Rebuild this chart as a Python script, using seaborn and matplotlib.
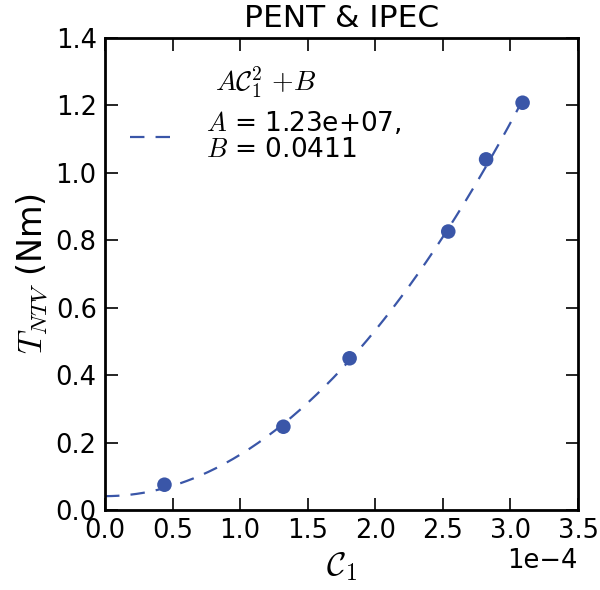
import numpy as np
import pandas as pd
import matplotlib
matplotlib.use("Agg")
import matplotlib.pyplot as plt
import seaborn as sns

# Measured torque versus C1 coefficient
c1_values = [0.44e-4, 1.32e-4, 1.81e-4, 2.54e-4, 2.82e-4, 3.09e-4]
torque_values = [0.075, 0.247, 0.450, 0.826, 1.040, 1.208]

# Quadratic fit coefficients: T = A*C1^2 + B
fit_A = 1.23e7
fit_B = 0.0411

x_ticks = [0.0, 0.5e-4, 1.0e-4, 1.5e-4, 2.0e-4, 2.5e-4, 3.0e-4, 3.5e-4]
y_ticks = [0.0, 0.2, 0.4, 0.6, 0.8, 1.0, 1.2, 1.4]

color = "#3A56A8"

sns.set_style("ticks")
plt.rcParams.update({
    "font.family": ["DejaVu Sans"],
    "mathtext.fontset": "cm",
    "text.color": "black",
    "axes.labelcolor": "black",
    "xtick.direction": "in",
    "ytick.direction": "in",
    "xtick.top": True,
    "ytick.right": True,
    "xtick.major.size": 9,
    "ytick.major.size": 9,
    "xtick.major.width": 1.2,
    "ytick.major.width": 1.2,
    "axes.linewidth": 2.0,
    "axes.edgecolor": "black",
    "xtick.color": "black",
    "ytick.color": "black",
})

data = pd.DataFrame({"C1": c1_values, "T": torque_values})
fit_x = np.linspace(0, max(c1_values), 200)
fit = pd.DataFrame({"C1": fit_x, "T": fit_A * fit_x**2 + fit_B})

fig = plt.figure(figsize=(6.0, 5.9), dpi=100)
ax = fig.add_axes([105 / 600, 1 - 510 / 590, 473 / 600, 472 / 590])

sns.lineplot(data=fit, x="C1", y="T", ax=ax, color=color, linewidth=1.6,
             linestyle=(0, (6.5, 5)),
             label=f"$A$ = {fit_A:.2e},\n$B$ = {fit_B:.4f}")
sns.scatterplot(data=data, x="C1", y="T", ax=ax, color=color, s=110,
                edgecolor="none", zorder=3)

ax.set_xlim(0, 3.5e-4)
ax.set_ylim(0, 1.4)
ax.set_xticks(x_ticks)
ax.set_yticks(y_ticks)
ax.ticklabel_format(axis="x", style="sci", scilimits=(0, 0))
ax.tick_params(labelsize=18.5, pad=6)
ax.xaxis.get_offset_text().set_fontsize(18.5)

ax.set_xlabel(r"$\mathcal{C}_1$", fontsize=24)
ax.set_ylabel(r"$T_{NTV}$ (Nm)", fontsize=24, color="black")
ax.set_title("PENT & IPEC", fontsize=22.5, pad=8, color="black")

leg = ax.legend(loc="upper left", frameon=False, fontsize=19,
                title=r"$A\mathcal{C}_1^2$ $+B$", title_fontsize=20,
                handlelength=1.6, handletextpad=1.3, labelspacing=0.35,
                borderaxespad=0.0, bbox_to_anchor=(0.03, 0.966))
for txt in leg.get_texts():
    txt.set_linespacing(1.0)
    txt.set_color("black")
leg.get_title().set_color("black")

fig.savefig("out.png", dpi=100)
